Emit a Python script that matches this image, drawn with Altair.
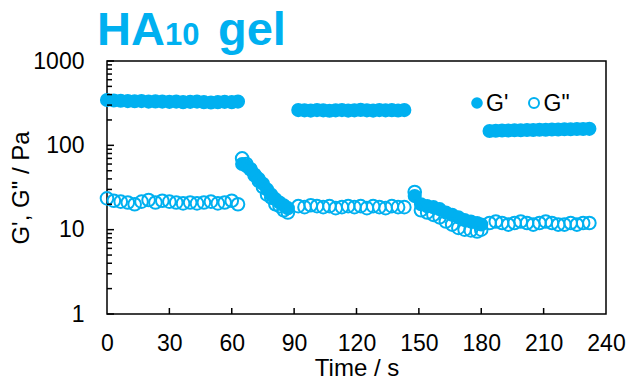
import altair as alt
import pandas as pd

# ---- data ----
t1 = [0, 3.3, 6.6, 10, 13.3, 16.6, 20, 23.3, 26.6, 30, 33.3, 36.6, 40, 43.3, 46.6, 50, 53.3, 56.6, 60, 63]
g1_store = [345, 340, 338, 335, 333, 335, 330, 332, 330, 328, 330, 325, 328, 330, 325, 322, 325, 328, 325, 330]
g1_loss = [23.5, 22, 21.5, 21, 20, 21.5, 22.5, 21, 22, 21.5, 21, 20.5, 21, 20.5, 21, 21.5, 20.5, 21, 22, 20]

t2 = [65, 67, 69, 71, 73, 75, 77, 79, 81, 83, 85, 87]
g2_store = [60, 57, 52, 45, 40, 35, 30, 26, 23, 21, 19.5, 18]
g2_loss = [70, 60, 52, 44, 38, 32, 26, 24, 20, 19, 17, 16]

t3 = [92, 95, 98, 101, 104, 107, 110, 113, 116, 119, 122, 125, 128, 131, 134, 137, 140, 143]
g3_store = [262, 260, 258, 262, 260, 257, 260, 262, 258, 260, 263, 260, 258, 262, 260, 261, 259, 262]
g3_loss = [19, 18.5, 19.5, 19, 18.5, 19, 18, 18.5, 19, 18.5, 19, 18, 19, 18.5, 18, 19, 18.5, 18.5]

t4 = [148, 151, 154, 157, 160, 163, 166, 169, 172, 175, 178, 180]
g4_store = [25, 20, 19, 18.5, 17.5, 16, 15, 14, 13, 12.5, 12, 11.5]
g4_loss = [28, 17, 16, 15, 14, 12.5, 11.5, 10.5, 10, 9.8, 9.5, 10]

t5 = [184, 187, 190, 193, 196, 199, 202, 205, 208, 211, 214, 217, 220, 223, 226, 229, 232]
g5_store = [148, 149, 150, 150, 151, 151, 152, 152, 153, 153, 154, 154, 155, 155, 156, 156, 157]
g5_loss = [12, 12.5, 12, 11.5, 12, 12.5, 12, 11.5, 12, 12.5, 12, 11.5, 11.5, 12, 11.5, 12, 12]

x_ticks = [0, 30, 60, 90, 120, 150, 180, 210, 240]
y_major = [1, 10, 100, 1000]
y_minor = [m * d for d in (1, 10, 100) for m in range(2, 10)]
x_inner_ticks = [30, 60, 90, 120, 150, 180, 210]

title_parts = ["HA", "10", "gel"]
legend_labels = ["G'", 'G"']
x_title = "Time / s"
y_title = 'G\', G" / Pa'

BLUE = "#00B0F0"
FONT = "Liberation Sans"
W, H = 499, 253

times = t1 + t2 + t3 + t4 + t5
df_store = pd.DataFrame({"t": times, "v": g1_store + g2_store + g3_store + g4_store + g5_store})
df_loss = pd.DataFrame({"t": times, "v": g1_loss + g2_loss + g3_loss + g4_loss + g5_loss})

xscale = alt.Scale(domain=[0, 240], nice=False)
yscale = alt.Scale(type="log", domain=[1, 1000], nice=False)

x_axis = alt.Axis(values=x_ticks, tickSize=0, domain=False, grid=False,
                  labelFontSize=23, labelFont=FONT, labelColor="black",
                  labelPadding=18, labelFlush=False,
                  title=x_title, titleFont=FONT, titleFontSize=24,
                  titleFontWeight="normal", titleColor="black",
                  titleBaseline="alphabetic", titleY=61)
y_axis = alt.Axis(values=y_major, format="d", tickSize=0, domain=False, grid=False,
                  labelFontSize=23, labelFont=FONT, labelColor="black",
                  labelPadding=23, labelFlush=False,
                  title=y_title, titleFont=FONT, titleFontSize=24,
                  titleFontWeight="normal", titleColor="black",
                  titleAngle=-90, titleAlign="center", titleBaseline="alphabetic",
                  titleX=-79, titleY=H / 2)


def X():
    return alt.X("t:Q", scale=xscale, axis=x_axis, title=x_title)


def Y():
    return alt.Y("v:Q", scale=yscale, axis=y_axis, title=y_title)


store = alt.Chart(df_store).mark_point(shape="circle", filled=True, size=200,
                                       color=BLUE, opacity=1).encode(x=X(), y=Y())
loss = alt.Chart(df_loss).mark_point(shape="circle", filled=False, size=160,
                                     color=BLUE, strokeWidth=2, opacity=1).encode(x=X(), y=Y())

# inward ticks
ymaj = alt.Chart(pd.DataFrame({"v": y_major})).mark_rule(color="black", strokeWidth=1.5).encode(
    y=Y(), x=alt.value(0), x2=alt.value(7))
ymin = alt.Chart(pd.DataFrame({"v": y_minor})).mark_rule(color="black", strokeWidth=1.5).encode(
    y=Y(), x=alt.value(0), x2=alt.value(5))
xt = alt.Chart(pd.DataFrame({"t": x_inner_ticks})).mark_rule(color="black", strokeWidth=1.5).encode(
    x=X(), y=alt.value(H), y2=alt.value(H - 6))

# legend
leg_fill = alt.Chart(pd.DataFrame({"k": [legend_labels[0]]})).mark_point(
    shape="circle", filled=True, size=135, color=BLUE, opacity=1).encode(
    x=alt.value(370), y=alt.value(42))
leg_open = alt.Chart(pd.DataFrame({"k": [legend_labels[1]]})).mark_point(
    shape="circle", filled=False, size=100, color=BLUE, strokeWidth=2, opacity=1).encode(
    x=alt.value(427), y=alt.value(42))
leg_t1 = alt.Chart(pd.DataFrame({"k": [legend_labels[0]]})).mark_text(
    align="left", baseline="alphabetic", font=FONT, fontSize=23, color="black").encode(
    text="k:N", x=alt.value(379), y=alt.value(49.5))
leg_t2 = alt.Chart(pd.DataFrame({"k": [legend_labels[1]]})).mark_text(
    align="left", baseline="alphabetic", font=FONT, fontSize=23, color="black").encode(
    text="k:N", x=alt.value(436.5), y=alt.value(49.5))

# title
tt1 = alt.Chart(pd.DataFrame({"k": [title_parts[0]]})).mark_text(
    align="left", baseline="alphabetic", font=FONT, fontSize=47, fontWeight="bold", color=BLUE).encode(
    text="k:N", x=alt.value(-10), y=alt.value(-16))
tt2 = alt.Chart(pd.DataFrame({"k": [title_parts[1]]})).mark_text(
    align="left", baseline="alphabetic", font=FONT, fontSize=31, fontWeight="bold", color=BLUE).encode(
    text="k:N", x=alt.value(58), y=alt.value(-16))
tt3 = alt.Chart(pd.DataFrame({"k": [title_parts[2]]})).mark_text(
    align="left", baseline="alphabetic", font=FONT, fontSize=47, fontWeight="bold", color=BLUE).encode(
    text="k:N", x=alt.value(111), y=alt.value(-16))

chart = alt.layer(store, loss, ymaj, ymin, xt, leg_fill, leg_open, leg_t1, leg_t2, tt1, tt2, tt3).properties(
    width=W, height=H,
    autosize=alt.AutoSizeParams(type="none"),
    padding={"left": 107, "top": 61, "right": 25, "bottom": 66},
    background="white",
).configure_view(stroke="black", strokeWidth=1.5)

chart.save("out.html", embed_options={"renderer": "svg", "actions": False})
